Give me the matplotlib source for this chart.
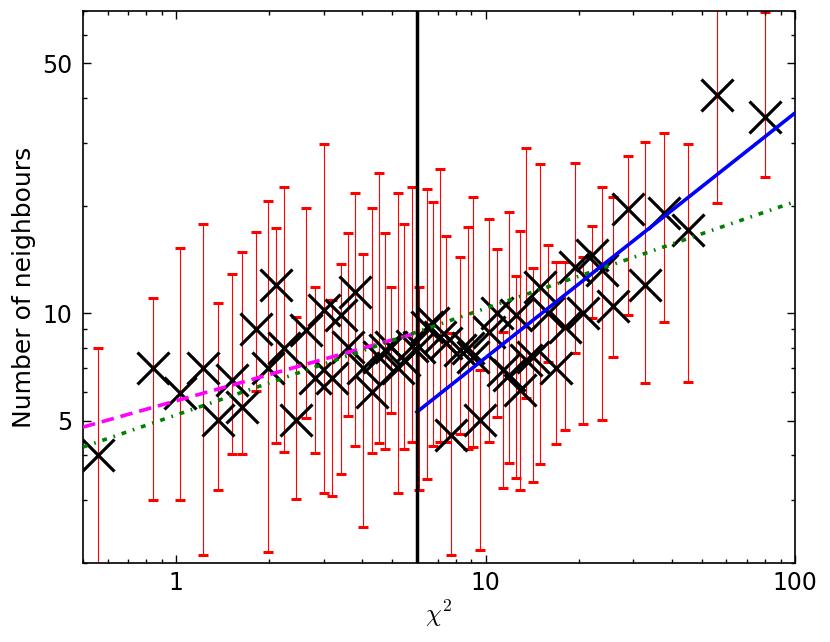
import numpy as np
import matplotlib
matplotlib.use('Agg')
import matplotlib.pyplot as plt
from matplotlib.ticker import FixedLocator, LogLocator, NullFormatter, FuncFormatter

plt.rcParams['mathtext.fontset'] = 'cm'
plt.rcParams['lines.scale_dashes'] = False

# chi^2 of each object, number of neighbours, and lower / upper ends of the error bar
chi2 = [0.56, 0.843, 1.03, 1.22, 1.37, 1.51, 1.63, 1.81, 1.98, 2.10,
        2.23, 2.44, 2.63, 2.81, 3.01, 3.19, 3.41, 3.60, 3.79, 4.02,
        4.30, 4.53, 4.73, 4.95, 5.22, 5.45, 5.79, 6.10,
        6.47, 6.77, 7.13, 7.45, 7.74, 8.27, 8.78, 9.11, 9.60, 10.26,
        10.9, 11.4, 11.9, 12.5, 12.9, 13.5, 14.2, 15.0, 15.9, 16.9,
        18.1, 19.5, 20.7, 22.1, 23.8, 25.8, 28.9, 32.8, 37.7, 45.1,
        56.0, 80.0]
neigh = [4.00, 7.01, 5.97, 7.01, 5.01, 6.49, 5.45, 9.02, 7.01, 12.0,
         7.98, 5.01, 8.96, 6.57, 10.2, 6.57, 9.87, 8.03, 11.45, 7.01,
         6.01, 7.53, 7.88, 8.03, 7.01, 7.38, 8.09, 8.03,
         9.14, 9.38, 8.57, 8.24, 4.55, 7.88, 7.98, 7.53, 5.01, 8.85,
         10.0, 6.92, 6.70, 9.87, 6.08, 7.38, 7.53, 11.8, 10.0, 7.01,
         9.14, 13.5, 10.0, 14.5, 13.2, 10.5, 19.6, 12.0, 19.1, 17.1,
         40.8, 35.4]
neigh_lo = [1.5, 3.01, 3.01, 2.11, 3.21, 4.03, 4.03, 6.04, 2.14, 4.32,
            4.08, 3.03, 5.08, 4.05, 3.13, 3.07, 3.54, 5.15, 4.24, 2.52,
            4.05, 4.32, 4.16, 5.25, 3.13, 4.16, 4.35, 3.21,
            3.43, 4.24, 4.35, 4.35, 2.11, 4.58, 4.18, 4.21, 2.18, 4.35,
            5.11, 3.24, 3.80, 3.45, 3.21, 5.78, 3.38, 3.78, 7.30, 4.30,
            4.70, 7.73, 4.89, 9.68, 5.01, 7.53, 9.87, 6.37, 9.44, 6.40,
            20.3, 24.0]
neigh_hi = [7.98, 11.0, 15.2, 17.8, 10.7, 12.9, 14.8, 16.9, 20.6, 17.3,
            22.5, 9.74, 19.7, 11.8, 29.7, 10.9, 13.7, 16.7, 21.7, 14.6,
            19.7, 24.7, 16.7, 11.8, 21.7, 17.8, 22.5, 11.8,
            22.2, 20.5, 25.3, 16.4, 8.79, 14.4, 17.4, 21.1, 6.92, 18.3,
            15.1, 8.85, 19.2, 12.7, 17.0, 29.0, 13.4, 26.1, 15.5, 13.9,
            13.9, 26.3, 14.35, 17.5, 22.5, 21.1, 27.5, 30.1, 31.9, 29.7,
            80.0, 69.7]

# power-law fits (straight lines in log-log), end points
low_fit_x = [0.5, 6.0]
low_fit_y = [4.80, 8.8]
all_fit_x = [0.5, 100.0]
all_fit_y = [4.22, 20.5]
high_fit_x = [6.0, 100.0]
high_fit_y = [5.29, 36.3]
chi2_cut = 6.0

neigh = np.array(neigh)
yerr = [neigh - np.array(neigh_lo), np.array(neigh_hi) - neigh]

fig = plt.figure(figsize=(8.3, 6.42), dpi=100)
ax = fig.add_axes([83 / 830, 1 - 563 / 642, 712 / 830, 552 / 642])

ax.errorbar(chi2, neigh, yerr=yerr, fmt='none', ecolor='r', elinewidth=0.8,
            capsize=3.5, capthick=2.2, zorder=1)
ax.plot(chi2, neigh, 'kx', ms=23, mew=2.3, zorder=2)
ax.plot(low_fit_x, low_fit_y, color='magenta', lw=2.6, dashes=(9, 5), zorder=3)
ax.plot(all_fit_x, all_fit_y, color='green', lw=2.6, dashes=(3.5, 5, 1.2, 5), zorder=3)
ax.plot(high_fit_x, high_fit_y, color='blue', lw=2.6, zorder=3)
ax.axvline(chi2_cut, color='k', lw=2.5, zorder=4)

ax.set_xscale('log')
ax.set_yscale('log')
ax.set_xlim(0.5, 100)
ax.set_ylim(2, 70)
ax.yaxis.set_major_locator(FixedLocator([5, 10, 50]))
ax.yaxis.set_minor_locator(LogLocator(subs=np.arange(2, 10)))
ax.xaxis.set_major_locator(FixedLocator([1, 10, 100]))
ax.xaxis.set_minor_locator(LogLocator(subs=np.arange(2, 10)))
fmt = FuncFormatter(lambda v, p: '%g' % v)
ax.xaxis.set_major_formatter(fmt)
ax.yaxis.set_major_formatter(fmt)
ax.xaxis.set_minor_formatter(NullFormatter())
ax.yaxis.set_minor_formatter(NullFormatter())
ax.tick_params(which='both', direction='in', top=True, right=True, width=1, labelsize=17)
ax.tick_params(which='major', length=6)
ax.tick_params(which='minor', length=3)
ax.tick_params(axis='x', which='major', pad=6)
ax.tick_params(axis='y', which='major', pad=8)
for s in ax.spines.values():
    s.set_linewidth(1.2)

ax.set_xlabel(r'$\chi^2$', fontsize=18, labelpad=2)
ax.set_ylabel('Number of neighbours', fontsize=18)

fig.savefig('out.png', dpi=100)
